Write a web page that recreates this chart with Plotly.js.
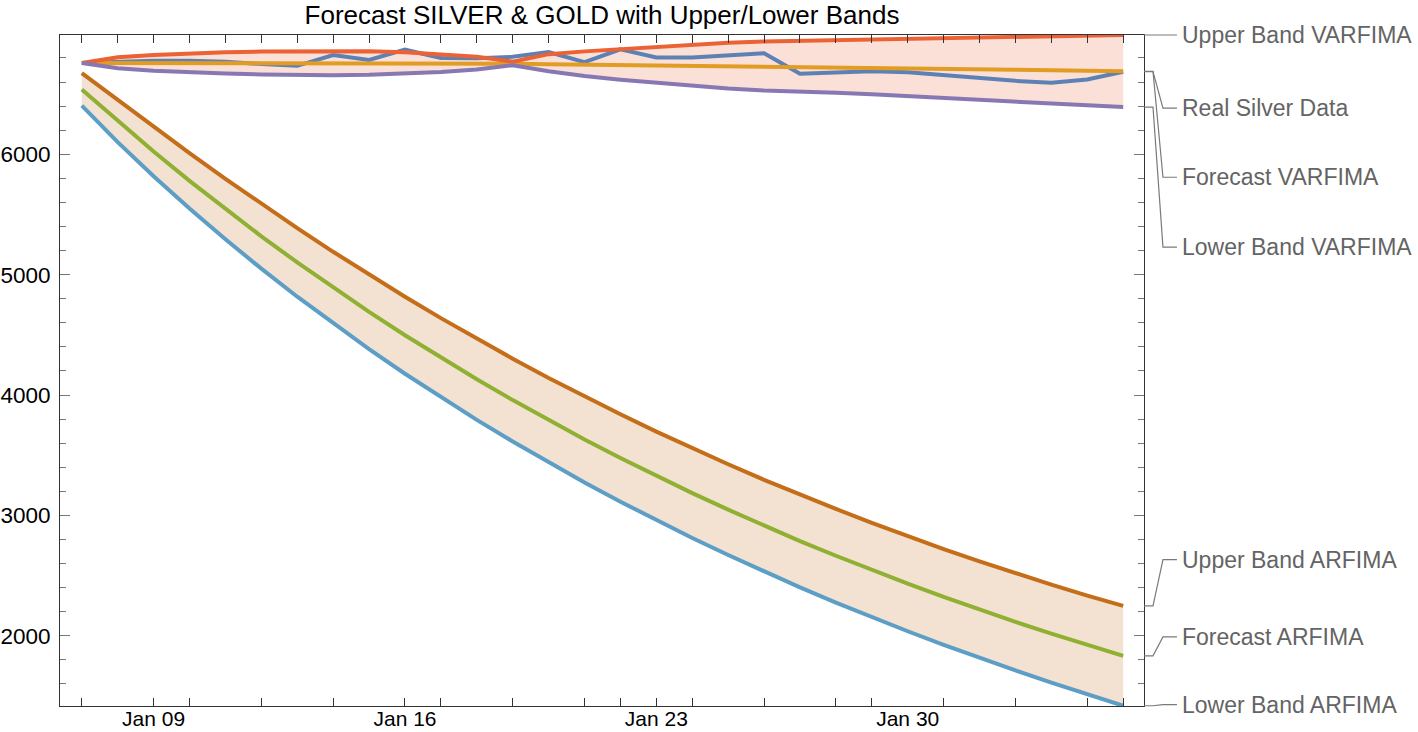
<!DOCTYPE html>
<html>
<head>
<meta charset="utf-8">
<script src="https://cdn.plot.ly/plotly-3.0.1.min.js"></script>
<style>
  html, body { margin: 0; padding: 0; background: #ffffff; }
  #chart { width: 1418px; height: 732px; }
</style>
</head>
<body>
<div id="chart"></div>
<script>
// forecast dates (one point per day)
const dates = [
  "2019-01-07", "2019-01-08", "2019-01-09", "2019-01-10", "2019-01-11",
  "2019-01-12", "2019-01-13", "2019-01-14", "2019-01-15", "2019-01-16",
  "2019-01-17", "2019-01-18", "2019-01-19", "2019-01-20", "2019-01-21",
  "2019-01-22", "2019-01-23", "2019-01-24", "2019-01-25", "2019-01-26",
  "2019-01-27", "2019-01-28", "2019-01-29", "2019-01-30", "2019-01-31",
  "2019-02-01", "2019-02-02", "2019-02-03", "2019-02-04", "2019-02-05",
];

const realSilver = [
  6758, 6768, 6777, 6777, 6768, 6750, 6735, 6825, 6783, 6869,
  6800, 6797, 6810, 6849, 6766, 6872, 6805, 6805, 6825, 6840,
  6670, 6680, 6690, 6682, 6656, 6630, 6610, 6595, 6622, 6686,
];
const forecastVarfima = [
  6758, 6758, 6758, 6758, 6758, 6757, 6757, 6757, 6757, 6757,
  6756, 6754, 6752, 6749, 6746, 6743, 6740, 6737, 6734, 6731,
  6727, 6723, 6719, 6715, 6710, 6706, 6702, 6698, 6693, 6689,
];
const upperVarfima = [
  6758, 6806, 6825, 6839, 6847, 6853, 6856, 6857, 6855, 6848,
  6832, 6810, 6770, 6832, 6855, 6874, 6894, 6913, 6927, 6938,
  6944, 6950, 6956, 6962, 6967, 6973, 6978, 6983, 6988, 6991,
];
const lowerVarfima = [
  6758, 6714, 6695, 6681, 6671, 6663, 6658, 6657, 6660, 6668,
  6683, 6704, 6740, 6690, 6650, 6620, 6595, 6570, 6547, 6530,
  6524, 6511, 6498, 6484, 6470, 6456, 6441, 6426, 6409, 6392,
];
const forecastArfima = [
  6539, 6276, 6023, 5779, 5545, 5319, 5102, 4892, 4691, 4497,
  4310, 4131, 3958, 3791, 3631, 3477, 3328, 3185, 3048, 2915,
  2787, 2665, 2546, 2433, 2323, 2218, 2116, 2018, 1924, 1834,
];
const upperArfima = [
  6674, 6451, 6228, 6009, 5796, 5588, 5387, 5190, 5001, 4817,
  4639, 4468, 4302, 4142, 3988, 3840, 3696, 3558, 3425, 3296,
  3172, 3054, 2938, 2828, 2721, 2619, 2520, 2425, 2334, 2249,
];
const lowerArfima = [
  6404, 6101, 5818, 5549, 5294, 5050, 4817, 4594, 4381, 4177,
  3981, 3794, 3614, 3440, 3274, 3114, 2960, 2812, 2671, 2534,
  2402, 2276, 2154, 2038, 1925, 1817, 1712, 1611, 1514, 1419,
];

const labelDates = ["2019-01-09", "2019-01-16", "2019-01-23", "2019-01-30"];
const labelText = ["Jan 09", "Jan 16", "Jan 23", "Jan 30"];
const bottomTickDates = [
  "2019-01-07", "2019-01-09", "2019-01-10", "2019-01-12", "2019-01-14",
  "2019-01-16", "2019-01-17", "2019-01-19", "2019-01-21", "2019-01-22",
  "2019-01-23", "2019-01-24", "2019-01-26", "2019-01-28", "2019-01-29",
  "2019-01-31", "2019-02-02", "2019-02-04", "2019-02-05",
];
const yTicks = [2000, 3000, 4000, 5000, 6000];

// callout labels on the right, top to bottom
const calloutNames = [
  "Upper Band VARFIMA", "Real Silver Data", "Forecast VARFIMA", "Lower Band VARFIMA",
  "Upper Band ARFIMA", "Forecast ARFIMA", "Lower Band ARFIMA",
];
const calloutSeries = [
  upperVarfima, realSilver, forecastVarfima, lowerVarfima,
  upperArfima, forecastArfima, lowerArfima,
];
// label heights as a fraction of the plot height
const calloutLabelY = [1.0, 0.891, 0.788, 0.684, 0.218, 0.103, 0.002];

const FONT = "Liberation Sans, Arial, Helvetica, sans-serif";
const Y_RANGE = [1417, 6991];
const X_RANGE = ["2019-01-06 09:26", "2019-02-05 13:55"];

function toPaperY(value) {
  return (value - Y_RANGE[0]) / (Y_RANGE[1] - Y_RANGE[0]);
}

function bandTrace(values, fillColor) {
  return {
    x: dates,
    y: values,
    type: "scatter",
    mode: "lines",
    line: { width: 0 },
    fill: fillColor ? "tonexty" : "none",
    fillcolor: fillColor,
    hoverinfo: "skip",
    showlegend: false,
  };
}

function lineTrace(values, name, color) {
  return {
    x: dates,
    y: values,
    type: "scatter",
    mode: "lines",
    name,
    line: { color, width: 4 },
    showlegend: false,
  };
}

const traces = [
  bandTrace(lowerVarfima, null),
  bandTrace(upperVarfima, "rgba(235, 98, 53, 0.2)"),
  bandTrace(lowerArfima, null),
  bandTrace(upperArfima, "rgba(197, 110, 26, 0.2)"),
  lineTrace(realSilver, "Real Silver Data", "#5E81B5"),
  lineTrace(forecastVarfima, "Forecast VARFIMA", "#E19C24"),
  lineTrace(forecastArfima, "Forecast ARFIMA", "#8FB032"),
  lineTrace(upperVarfima, "Upper Band VARFIMA", "#EB6235"),
  lineTrace(lowerVarfima, "Lower Band VARFIMA", "#8778B3"),
  lineTrace(upperArfima, "Upper Band ARFIMA", "#C56E1A"),
  lineTrace(lowerArfima, "Lower Band ARFIMA", "#5D9EC7"),
  // empty traces so the extra tick axes get drawn
  { x: [dates[0]], y: [null], xaxis: "x2", type: "scatter", mode: "lines", showlegend: false, hoverinfo: "skip" },
  { x: [dates[0]], y: [null], xaxis: "x3", type: "scatter", mode: "lines", showlegend: false, hoverinfo: "skip" },
];

// leader lines from each series end to its label
const shapes = calloutSeries.map((values, i) => {
  const y0 = toPaperY(values[values.length - 1]);
  const y1 = calloutLabelY[i];
  return {
    type: "path",
    xref: "paper",
    yref: "paper",
    path: `M 1,${y0} L 1.0083,${y0} L 1.0175,${y1} L 1.0304,${y1}`,
    line: { color: "#7a7a7a", width: 1.2 },
  };
});

const annotations = calloutNames.map((name, i) => ({
  text: name,
  xref: "paper",
  yref: "paper",
  x: 1.0335,
  y: calloutLabelY[i],
  xanchor: "left",
  yanchor: "middle",
  showarrow: false,
  font: { family: FONT, size: 23, color: "#646464" },
}));

const baseX = {
  type: "date",
  range: X_RANGE,
  showgrid: false,
  zeroline: false,
  fixedrange: true,
};

Plotly.newPlot("chart", traces, {
  width: 1418,
  height: 732,
  margin: { l: 60, r: 274, t: 35, b: 26 },
  paper_bgcolor: "#ffffff",
  plot_bgcolor: "#ffffff",
  showlegend: false,
  title: {
    text: "Forecast SILVER & GOLD with Upper/Lower Bands",
    font: { family: FONT, size: 26, color: "#000000" },
    x: 0.5,
    xref: "paper",
    xanchor: "center",
    y: 0.979,
    yref: "container",
    yanchor: "middle",
  },
  xaxis: {
    ...baseX,
    tickmode: "array",
    tickvals: labelDates,
    ticktext: labelText,
    ticks: "",
    showline: true,
    linecolor: "#333333",
    linewidth: 1,
    mirror: true,
    ticklabelstandoff: -6,
    tickfont: { family: FONT, size: 21, color: "#000000" },
  },
  xaxis2: {
    ...baseX,
    overlaying: "x",
    anchor: "y",
    side: "bottom",
    tickmode: "array",
    tickvals: bottomTickDates,
    ticks: "inside",
    ticklen: 8,
    tickcolor: "#333333",
    showticklabels: false,
    showline: false,
  },
  xaxis3: {
    ...baseX,
    overlaying: "x",
    anchor: "y",
    side: "top",
    tickmode: "array",
    tickvals: dates,
    ticks: "inside",
    ticklen: 8,
    tickcolor: "#333333",
    showticklabels: false,
    showline: false,
  },
  yaxis: {
    range: Y_RANGE,
    tickmode: "array",
    tickvals: yTicks,
    ticks: "inside",
    ticklen: 10,
    tickcolor: "#777777",
    showline: true,
    linecolor: "#333333",
    linewidth: 1,
    mirror: "ticks",
    showgrid: false,
    zeroline: false,
    fixedrange: true,
    ticklabelstandoff: 4,
    tickfont: { family: FONT, size: 22.5, color: "#000000" },
    minor: {
      tickmode: "linear",
      tick0: 0,
      dtick: 200,
      ticks: "inside",
      ticklen: 6,
      tickcolor: "#777777",
      showgrid: false,
    },
  },
  shapes,
  annotations,
}, {
  displayModeBar: false,
  staticPlot: true,
});
</script>
</body>
</html>
